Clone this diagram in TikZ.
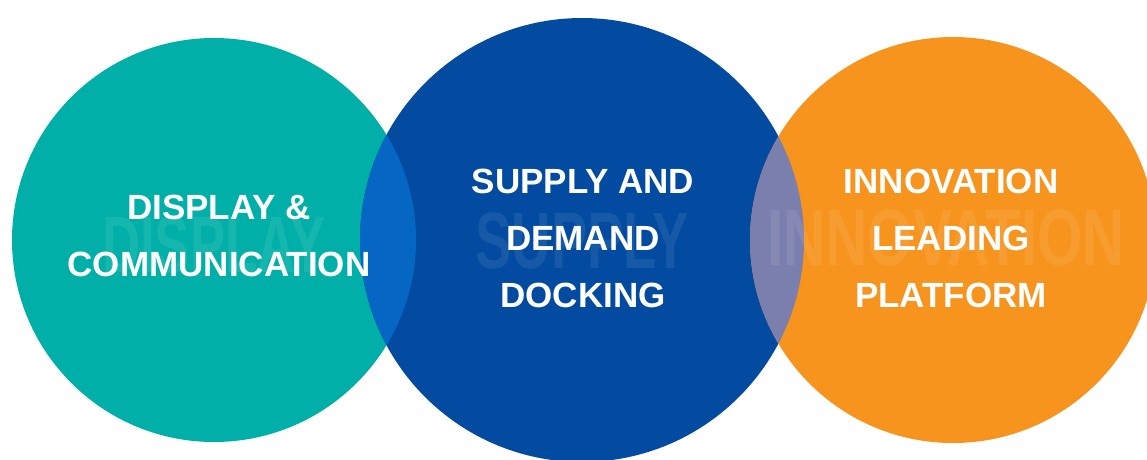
\documentclass[tikz,border=0pt]{standalone}
\usepackage{fontspec}
\setmainfont{Liberation Sans}
\usepackage{xcolor}

\definecolor{tealdisc}{HTML}{00B0A8}
\definecolor{bluedisc}{HTML}{024BA0}
\definecolor{orangedisc}{HTML}{F7941E}
\definecolor{tealblue}{HTML}{0566C4}
\definecolor{blueorange}{HTML}{7B7FAD}

\begin{document}
\begin{tikzpicture}[x=1pt, y=-1pt,
    disc/.style = {shape=circle, draw=none, inner sep=0pt},
    captext/.style = {align=center, text=white,
      font=\fontsize{35}{57}\selectfont\bfseries},
    ghost/.style = {text=white, opacity=0.08, inner sep=0pt,
      font=\fontsize{80}{80}\selectfont\bfseries}]
  \useasboundingbox (0,0) rectangle (1147,459);
  % the three discs
  \node[disc, fill=tealdisc, minimum size=404pt] (display) at (214,240) {};
  \node[disc, fill=bluedisc, minimum size=444pt] (supply) at (582,240) {};
  \node[disc, fill=orangedisc, minimum size=406pt] (innovation) at (953,240) {};
  % overlaps
  \begin{scope}
    \clip (214,240) circle (202pt);
    \fill[tealblue] (582,240) circle (222pt);
  \end{scope}
  \begin{scope}
    \clip (953,240) circle (203pt);
    \fill[blueorange] (582,240) circle (222pt);
  \end{scope}
  % faint words behind
  \node[ghost, xscale=0.66] (displayghost) at (display.center) [yshift=-5pt] {DISPLAY};
  \node[ghost, xscale=0.68] (supplyghost) at (supply.center) [yshift=-1pt] {SUPPLY};
  \node[ghost, xscale=0.73] (innovationghost) at (946,238) {INNOVATION};
  % captions
  \node[captext] (displaytxt) at (219,236) {DISPLAY \&\\COMMUNICATION};
  \node[captext] (supplytxt) at (583,238) {SUPPLY AND\\DEMAND\\DOCKING};
  \node[captext] (innovationtxt) at (951,238) {INNOVATION\\LEADING\\PLATFORM};
\end{tikzpicture}
\end{document}
